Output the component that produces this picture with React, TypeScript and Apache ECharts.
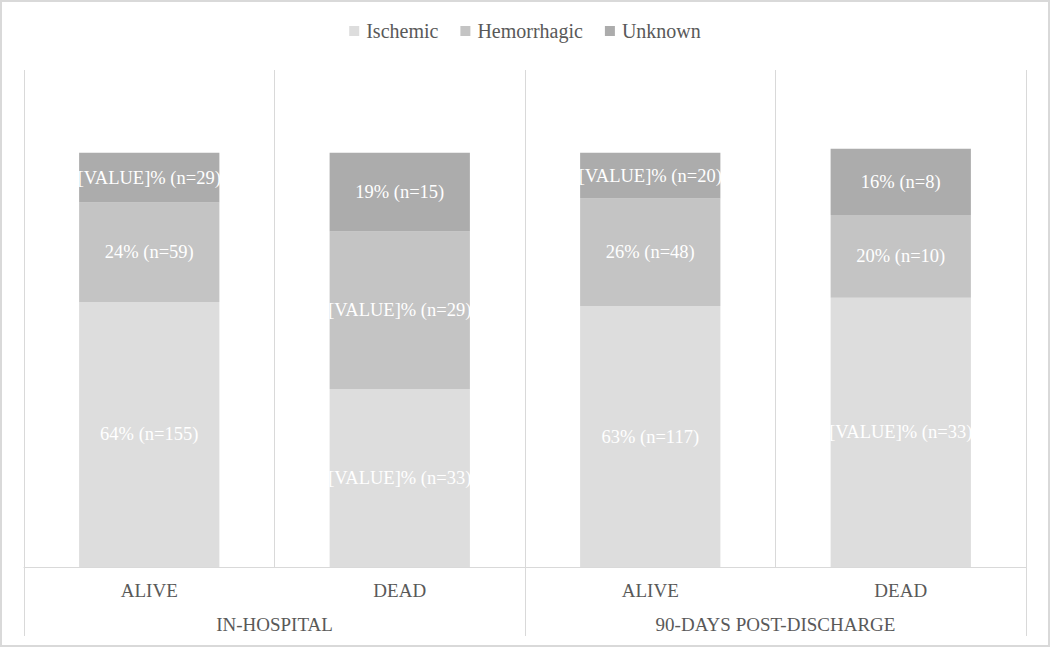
import React, { useEffect, useRef } from "react";
import * as echarts from "echarts";

const categories = ["ALIVE", "DEAD", "ALIVE", "DEAD"];
const groups = ["IN-HOSPITAL", "90-DAYS POST-DISCHARGE"];
const seriesNames = ["Ischemic", "Hemorrhagic", "Unknown"];

const ischemicPct = [64, 43, 63, 65];
const hemorrhagicPct = [24, 38, 26, 20];
const unknownPct = [12, 19, 11, 16];

const ischemicLabels = ["64% (n=155)", "[VALUE]% (n=33)", "63% (n=117)", "[VALUE]% (n=33)"];
const hemorrhagicLabels = ["24% (n=59)", "[VALUE]% (n=29)", "26% (n=48)", "20% (n=10)"];
const unknownLabels = ["[VALUE]% (n=29)", "19% (n=15)", "[VALUE]% (n=20)", "16% (n=8)"];

const colors = ["#dddddd", "#c4c4c4", "#acacac"];
const FONT = "'Liberation Serif', 'Times New Roman', serif";

export default function App() {
  const ref = useRef<HTMLDivElement>(null);

  useEffect(() => {
    if (!ref.current) return;
    const chart = echarts.init(ref.current, null, { renderer: "svg" });
    const values = [ischemicPct, hemorrhagicPct, unknownPct];
    const labels = [ischemicLabels, hemorrhagicLabels, unknownLabels];

    const series = seriesNames.map((name, si) => ({
      name,
      type: "bar",
      stack: "total",
      barWidth: "56%",
      xAxisIndex: 0,
      itemStyle: { color: colors[si] },
      label: {
        show: true,
        position: "inside",
        color: "#ffffff",
        fontFamily: FONT,
        fontSize: 18.5,
        formatter: (p: any) => labels[si][p.dataIndex],
      },
      data: values[si],
    }));

    chart.setOption({
      animation: false,
      textStyle: { fontFamily: FONT },
      legend: {
        top: 16,
        left: "center",
        itemWidth: 10,
        itemHeight: 10,
        itemGap: 22,
        icon: "rect",
        data: seriesNames,
        textStyle: { fontFamily: FONT, fontSize: 20, color: "#595959", padding: [0, 0, 0, 2] },
      },
      grid: { left: 24, right: 24, top: 70, bottom: 80, containLabel: false },
      xAxis: [
        {
          type: "category",
          data: categories,
          position: "bottom",
          axisLine: { show: true, lineStyle: { color: "#d9d9d9", width: 1 } },
          axisTick: { show: false },
          splitLine: { show: true, lineStyle: { color: "#d9d9d9", width: 1 } },
          axisLabel: { color: "#595959", fontFamily: FONT, fontSize: 19, margin: 14 },
        },
        {
          type: "category",
          data: groups,
          position: "bottom",
          axisLine: { show: false },
          axisTick: { show: true, length: 69, interval: 0, lineStyle: { color: "#d9d9d9", width: 1 } },
          splitLine: { show: false },
          axisLabel: { color: "#595959", fontFamily: FONT, fontSize: 19, margin: 48 },
        },
      ],
      yAxis: {
        type: "value",
        min: 0,
        max: 120,
        show: false,
        splitLine: { show: false },
      },
      graphic: [
        {
          type: "rect",
          shape: { x: 1, y: 1, width: 1048, height: 645 },
          style: { fill: "none", stroke: "#d9d9d9", lineWidth: 2 },
          silent: true,
        },
      ],
      series,
    });

    return () => chart.dispose();
  }, []);

  return (
    <div
      ref={ref}
      style={{ position: "absolute", left: 0, top: 0, width: 1050, height: 647, background: "#ffffff" }}
    />
  );
}
